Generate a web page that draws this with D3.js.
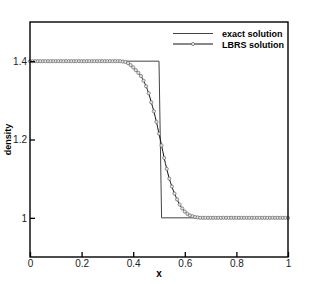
<!DOCTYPE html>
<html>
<head>
<meta charset="utf-8">
<script src="https://cdn.jsdelivr.net/npm/d3@7"></script>
<style>
  body { margin: 0; background: #fff; }
  svg { display: block; font-family: "Liberation Sans", Arial, sans-serif; }
</style>
</head>
<body>
<div id="chart"></div>
<script>
// exact solution (step)
const exactX = [0, 0.5, 0.51, 1];
const exactRho = [1.4, 1.4, 1.0, 1.0];

// LBRS solution, sampled every 0.01
const lbrsX = d3.range(0, 101).map(i => i / 100);
const lbrsRho = [
  1.4, 1.4, 1.4, 1.4, 1.4, 1.4, 1.4, 1.4, 1.4, 1.4,
  1.4, 1.4, 1.4, 1.4, 1.4, 1.4, 1.4, 1.4, 1.4, 1.4,
  1.4, 1.4, 1.4, 1.4, 1.4, 1.4, 1.4, 1.4, 1.4, 1.4,
  1.4, 1.4, 1.4, 1.4, 1.4, 1.4, 1.399, 1.398, 1.395, 1.39,
  1.384, 1.377, 1.37, 1.362, 1.35, 1.336, 1.318, 1.295, 1.272, 1.245,
  1.215, 1.185, 1.153, 1.125, 1.1, 1.08, 1.062, 1.047, 1.034, 1.024,
  1.016, 1.01, 1.006, 1.004, 1.002, 1.001, 1.0, 1.0, 1.0, 1.0,
  1.0, 1.0, 1.0, 1.0, 1.0, 1.0, 1.0, 1.0, 1.0, 1.0,
  1.0, 1.0, 1.0, 1.0, 1.0, 1.0, 1.0, 1.0, 1.0, 1.0,
  1.0, 1.0, 1.0, 1.0, 1.0, 1.0, 1.0, 1.0, 1.0, 1.0,
  1.0
];

const xTicks = [0, 0.2, 0.4, 0.6, 0.8, 1];
const yTicks = [1, 1.2, 1.4];
const legendNames = ["exact solution", "LBRS solution"];

const width = 314, height = 284;
const margin = { top: 22, right: 26, bottom: 27, left: 30 };

const svg = d3.select("#chart").append("svg")
  .attr("width", width)
  .attr("height", height);

const x = d3.scaleLinear().domain([0, 1]).range([margin.left, width - margin.right]);
const y = d3.scaleLinear().domain([0.9, 1.5]).range([height - margin.bottom, margin.top]);

const exact = exactX.map((v, i) => [v, exactRho[i]]);
const lbrs = lbrsX.map((v, i) => [v, lbrsRho[i]]);

const line = d3.line().x(d => x(d[0])).y(d => y(d[1]));

// exact
svg.append("path")
  .attr("d", line(exact))
  .attr("fill", "none")
  .attr("stroke", "#444")
  .attr("stroke-width", 1);

// LBRS
svg.append("path")
  .attr("d", line.curve(d3.curveMonotoneX)(lbrs))
  .attr("fill", "none")
  .attr("stroke", "#111")
  .attr("stroke-width", 1);

svg.selectAll(".mk")
  .data(lbrs)
  .join("circle")
    .attr("cx", d => x(d[0]))
    .attr("cy", d => y(d[1]))
    .attr("r", 1.6)
    .attr("fill", "#e4e4e4")
    .attr("stroke", "#666")
    .attr("stroke-width", 0.7);

// axes
const xAxis = d3.axisBottom(x).tickValues(xTicks).tickSizeInner(-5).tickSizeOuter(0)
  .tickPadding(3).tickFormat(d3.format("~g"));
const yAxis = d3.axisLeft(y).tickValues(yTicks).tickSizeInner(-5).tickSizeOuter(0)
  .tickPadding(3).tickFormat(d3.format("~g"));

const gx = svg.append("g")
  .attr("transform", `translate(0,${height - margin.bottom})`)
  .call(xAxis);
const gy = svg.append("g")
  .attr("transform", `translate(${margin.left},0)`)
  .call(yAxis);

[gx, gy].forEach(g => {
  g.select(".domain").remove();
  g.selectAll(".tick line").attr("stroke", "#000").attr("stroke-width", 1.3);
  g.selectAll(".tick text").attr("fill", "#222").style("font-size", "10px")
    .style("font-family", "'Liberation Sans', Arial, sans-serif");
});

// frame
svg.append("rect")
  .attr("x", margin.left)
  .attr("y", margin.top)
  .attr("width", width - margin.left - margin.right)
  .attr("height", height - margin.top - margin.bottom)
  .attr("fill", "none")
  .attr("stroke", "#000")
  .attr("stroke-width", 1.4);

// axis titles
svg.append("text")
  .attr("x", x(0.5))
  .attr("y", 277)
  .attr("text-anchor", "middle")
  .style("font-size", "10px")
  .style("font-weight", "bold")
  .text("x");

svg.append("text")
  .attr("transform", `translate(11,${y(1.2)}) rotate(-90)`)
  .attr("text-anchor", "middle")
  .style("font-size", "9px")
  .style("font-weight", "bold")
  .text("density");

// legend
const leg = svg.append("g");
legendNames.forEach((name, i) => {
  const ly = 33.5 + i * 10.5;
  leg.append("line")
    .attr("x1", 173).attr("x2", 213)
    .attr("y1", ly).attr("y2", ly)
    .attr("stroke", i === 0 ? "#444" : "#111")
    .attr("stroke-width", 1);
  if (i === 1) {
    leg.append("circle")
      .attr("cx", 193).attr("cy", ly).attr("r", 1.6)
      .attr("fill", "#e4e4e4").attr("stroke", "#666").attr("stroke-width", 0.7);
  }
  leg.append("text")
    .attr("x", 222).attr("y", ly + 3.5)
    .style("font-size", "9px")
    .style("font-weight", "bold")
    .text(name);
});
</script>
</body>
</html>
